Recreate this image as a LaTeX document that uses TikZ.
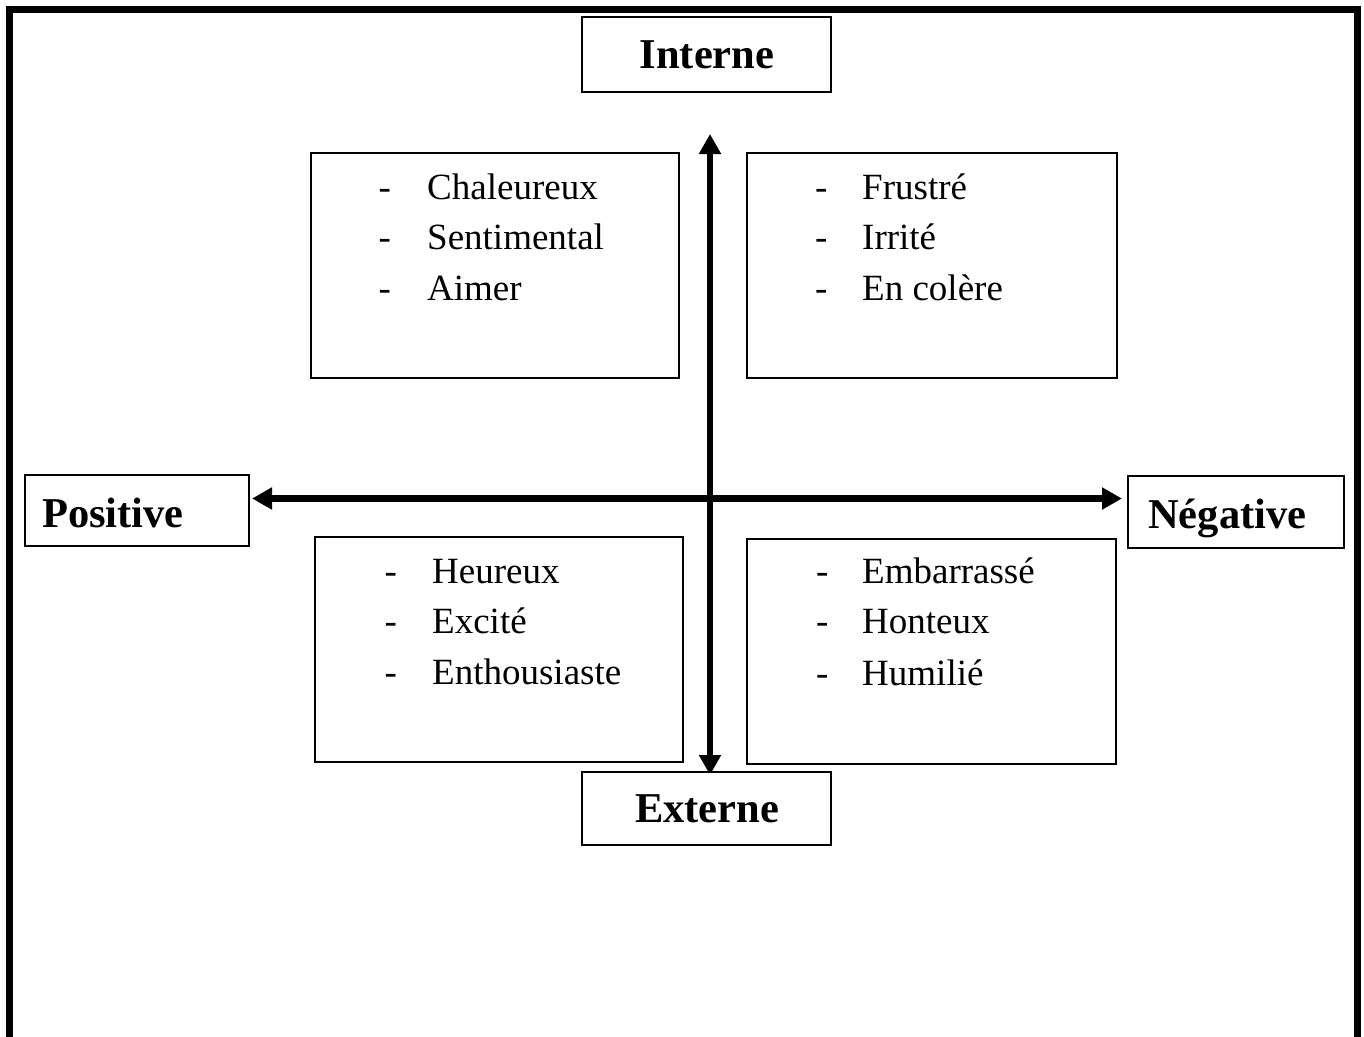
\documentclass[tikz,border=0pt]{standalone}
\usepackage{fontspec}
\setmainfont{Liberation Serif}
\usetikzlibrary{arrows.meta}
\begin{document}
\begin{tikzpicture}[x=1pt,y=-1pt,
  box/.style={draw, line width=1.6pt, inner sep=0pt, outer sep=0pt},
  lbl/.style={font=\fontsize{42.5}{50}\selectfont\bfseries, inner sep=0pt, anchor=base},
  lblw/.style={lbl, anchor=base west},
  item/.style={font=\fontsize{37}{44}\selectfont, inner sep=0pt, anchor=base west},
  axisline/.style={line width=6.5pt, {Triangle[length=20pt,width=21pt]}-{Triangle[length=20pt,width=21pt]}},
  frameline/.style={line width=7pt, line join=miter}]
\useasboundingbox (0,0) rectangle (1364,1036);
\fill[white] (0,0) rectangle (1364,1036);
% outer frame (open at the bottom)
\coordinate (fbl) at (9.5,1040);
\coordinate (ftl) at (9.5,9.5);
\coordinate (ftr) at (1357.5,9.5);
\coordinate (fbr) at (1357.5,1040);
\draw[frameline] (fbl) -- (ftl) -- (ftr) -- (fbr);
% axes
\coordinate (htip1) at (252,498.5);
\coordinate (htip2) at (1122,498.5);
\coordinate (vtip1) at (710,134);
\coordinate (vtip2) at (710,775);
\draw[axisline] (htip1) -- (htip2);
\draw[axisline] (vtip2) -- (vtip1);
% quadrant boxes
\node[box, minimum width=368pt, minimum height=225pt] (q1) at (495,265.5) {};
\node[box, minimum width=370pt, minimum height=225pt] (q2) at (932,265.5) {};
\node[box, minimum width=368pt, minimum height=225pt] (q3) at (499,649.5) {};
\node[box, minimum width=369pt, minimum height=225pt] (q4) at (931.5,651.5) {};
% axis label boxes
\node[box, fill=white, minimum width=249pt, minimum height=75pt] (bint) at (706.5,54.5) {};
\node[box, fill=white, minimum width=249pt, minimum height=73pt] (bext) at (706.5,808.5) {};
\node[box, fill=white, minimum width=224pt, minimum height=71pt] (bpos) at (137,510.5) {};
\node[box, fill=white, minimum width=216pt, minimum height=72pt] (bneg) at (1236,512) {};
\node[lbl] (tint) at (707,68) {Interne};
\node[lbl] (text) at (707,822) {Externe};
\node[lblw] (tpos) at (42,527) {Positive};
\node[lblw] (tneg) at (1148,528) {Négative};
% quadrant 1
\node[item] (d11) at (378.5,199) {-};
\node[item] (d12) at (378.5,249) {-};
\node[item] (d13) at (378.5,300) {-};
\node[item] (w11) at (427,199) {Chaleureux};
\node[item] (w12) at (427,249) {Sentimental};
\node[item] (w13) at (427,300) {Aimer};
% quadrant 2
\node[item] (d21) at (815,199) {-};
\node[item] (d22) at (815,249) {-};
\node[item] (d23) at (815,300) {-};
\node[item] (w21) at (862,199) {Frustré};
\node[item] (w22) at (862,249) {Irrité};
\node[item] (w23) at (862,300) {En colère};
% quadrant 3
\node[item] (d31) at (384.5,583) {-};
\node[item] (d32) at (384.5,633) {-};
\node[item] (d33) at (384.5,684) {-};
\node[item] (w31) at (432,583) {Heureux};
\node[item] (w32) at (432,633) {Excité};
\node[item] (w33) at (432,684) {Enthousiaste};
% quadrant 4
\node[item] (d41) at (816,583) {-};
\node[item] (d42) at (816,633) {-};
\node[item] (d43) at (816,685) {-};
\node[item] (w41) at (862,583) {Embarrassé};
\node[item] (w42) at (862,633) {Honteux};
\node[item] (w43) at (862,685) {Humilié};
\end{tikzpicture}
\end{document}
